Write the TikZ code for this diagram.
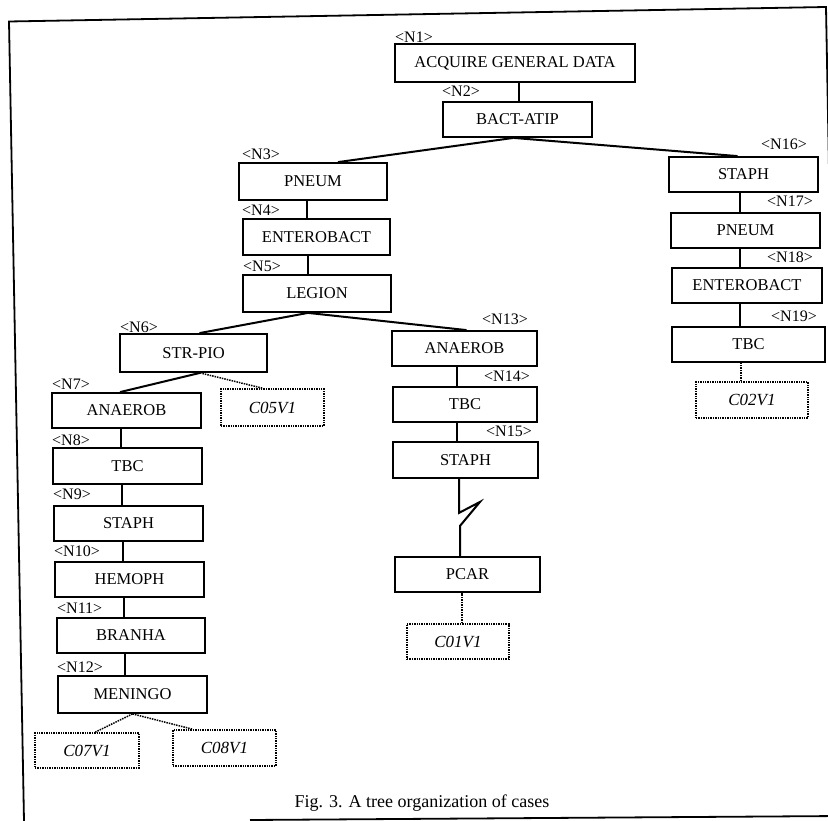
\documentclass[tikz,border=0pt]{standalone}
\usepackage{fontspec}
\setmainfont{Liberation Serif}
\begin{document}
\begin{tikzpicture}[x=1pt,y=-1pt,
  box/.style n args={2}{draw, line width=1.8pt, inner sep=0pt, minimum width=#1, minimum height=#2, font=\fontsize{16.5}{18}\selectfont},
  leaf/.style n args={2}{draw, densely dotted, line width=1.4pt, inner sep=0pt, minimum width=#1, minimum height=#2, font=\fontsize{17}{18}\selectfont\itshape},
  lab/.style={inner sep=0pt, font=\fontsize{16}{17}\selectfont},
  edge/.style={line width=2pt},
  dotedge/.style={line width=1.5pt, densely dotted},
  frame/.style={line width=1.8pt}]
\useasboundingbox (0,0) rectangle (828,821);
\begin{scope}
\clip (0,0) rectangle (828,821);
\draw[frame] (24,821) -- (9,21.5) -- (826,7) -- (841,821);
\draw[frame] (250,820) -- (841,816);
\end{scope}
% main nodes
\node[box={240pt}{38pt}] (N1) at (515,63) {ACQUIRE GENERAL DATA};
\node[box={149pt}{35pt}] (N2) at (517.5,119.5) {BACT-ATIP};
\node[box={148pt}{37pt}] (N3) at (313,181.5) {PNEUM};
\node[box={147pt}{36pt}] (N4) at (316.5,237) {ENTEROBACT};
\node[box={148pt}{37pt}] (N5) at (317,293.5) {LEGION};
\node[box={147pt}{38pt}] (N6) at (193.5,353) {STR-PIO};
\node[box={149pt}{35pt}] (N7) at (126.5,410.5) {ANAEROB};
\node[box={149pt}{36pt}] (N8) at (127.5,466) {TBC};
\node[box={149pt}{35pt}] (N9) at (128.5,523.5) {STAPH};
\node[box={149pt}{35pt}] (N10) at (129.5,579.5) {HEMOPH};
\node[box={148pt}{35pt}] (N11) at (131,635.5) {BRANHA};
\node[box={149pt}{37pt}] (N12) at (132.5,694.5) {MENINGO};
\node[box={145pt}{35pt}] (N13) at (464.5,348.5) {ANAEROB};
\node[box={144pt}{35pt}] (N14) at (465,404.5) {TBC};
\node[box={145pt}{36pt}] (N15) at (465.5,460) {STAPH};
\node[box={145pt}{35pt}] (P) at (467.5,574.5) {PCAR};
\node[box={149pt}{35pt}] (N16) at (743.5,174.5) {STAPH};
\node[box={149pt}{35pt}] (N17) at (745.5,230.5) {PNEUM};
\node[box={150pt}{35pt}] (N18) at (747,285.5) {ENTEROBACT};
\node[box={153pt}{35pt}] (N19) at (748.5,344.5) {TBC};
% leaves
\node[leaf={103pt}{37pt}] (C05) at (272.5,407.5) {C05V1};
\node[leaf={104pt}{35pt}] (C07) at (87,750.5) {C07V1};
\node[leaf={103pt}{36pt}] (C08) at (224.5,748) {C08V1};
\node[leaf={102pt}{35pt}] (C01) at (458,641.5) {C01V1};
\node[leaf={112pt}{36pt}] (C02) at (752,400) {C02V1};
% labels
\node[lab, anchor=west] (L1) at (395,37) {<N1>};
\node[lab, anchor=west] (L2) at (442,91) {<N2>};
\node[lab, anchor=west] (L3) at (242,154) {<N3>};
\node[lab, anchor=west] (L4) at (242,210) {<N4>};
\node[lab, anchor=west] (L5) at (243,266) {<N5>};
\node[lab, anchor=west] (L6) at (120,327) {<N6>};
\node[lab, anchor=west] (L7) at (52,384) {<N7>};
\node[lab, anchor=west] (L8) at (52,440) {<N8>};
\node[lab, anchor=west] (L9) at (53,494) {<N9>};
\node[lab, anchor=west] (L10) at (54,551) {<N10>};
\node[lab, anchor=west] (L11) at (57,608) {<N11>};
\node[lab, anchor=west] (L12) at (57,667) {<N12>};
\node[lab, anchor=east] (L13) at (528,319) {<N13>};
\node[lab, anchor=east] (L14) at (530,376) {<N14>};
\node[lab, anchor=east] (L15) at (532,431) {<N15>};
\node[lab, anchor=east] (L16) at (807,144) {<N16>};
\node[lab, anchor=east] (L17) at (813,201) {<N17>};
\node[lab, anchor=east] (L18) at (813,257) {<N18>};
\node[lab, anchor=east] (L19) at (817,316) {<N19>};
% caption
\node[inner sep=0pt, font=\fontsize{18}{20}\selectfont] (cap) at (422,803) {Fig. 3. A tree organization of cases};
% vertical connectors
\coordinate (v2) at ([xshift=1.5pt]N2.north);
\draw[edge] (v2) -- (v2 |- N1.south);
\coordinate (v4) at ([xshift=-9.5pt]N4.north);
\draw[edge] (v4) -- (v4 |- N3.south);
\coordinate (v5) at ([xshift=-9pt]N5.north);
\draw[edge] (v5) -- (v5 |- N4.south);
\coordinate (v8) at ([xshift=-6.5pt]N8.north);
\draw[edge] (v8) -- (v8 |- N7.south);
\coordinate (v9) at ([xshift=-6.5pt]N9.north);
\draw[edge] (v9) -- (v9 |- N8.south);
\coordinate (v10) at ([xshift=-6.5pt]N10.north);
\draw[edge] (v10) -- (v10 |- N9.south);
\coordinate (v11) at ([xshift=-7pt]N11.north);
\draw[edge] (v11) -- (v11 |- N10.south);
\coordinate (v12) at ([xshift=-7.5pt]N12.north);
\draw[edge] (v12) -- (v12 |- N11.south);
\coordinate (v14) at ([xshift=-8pt]N14.north);
\draw[edge] (v14) -- (v14 |- N13.south);
\coordinate (v15) at ([xshift=-8.5pt]N15.north);
\draw[edge] (v15) -- (v15 |- N14.south);
\coordinate (v17) at ([xshift=-6pt]N17.north);
\draw[edge] (v17) -- (v17 |- N16.south);
\coordinate (v18) at ([xshift=-7pt]N18.north);
\draw[edge] (v18) -- (v18 |- N17.south);
\coordinate (v19) at ([xshift=-8.5pt]N19.north);
\draw[edge] (v19) -- (v19 |- N18.south);
% branching connectors
\draw[edge] ([xshift=-4pt]N2.south) -- ([xshift=25pt]N3.north);
\draw[edge] ([xshift=-4pt]N2.south) -- ([xshift=-6pt]N16.north);
\draw[edge] ([xshift=-9pt]N5.south) -- ([xshift=6pt]N6.north);
\draw[edge] ([xshift=-9pt]N5.south) -- ([xshift=2pt]N13.north);
\draw[edge] ([xshift=6.5pt]N6.south) -- ([xshift=-6.5pt]N7.north);
\draw[dotedge] ([xshift=6.5pt]N6.south) -- ([xshift=-9.5pt]C05.north);
\draw[dotedge] (N12.south) -- ([xshift=8pt]C07.north);
\draw[dotedge] (N12.south) -- ([xshift=-31.5pt]C08.north);
% zigzag
\coordinate (zz) at ([xshift=-7.5pt]P.north);
\draw[edge] ([xshift=-6.5pt]N15.south) -- ++(0,34) -- ++(21,-11) -- ++(-20,24) -- (zz);
% leaf connectors
\coordinate (c01) at ([xshift=4pt]C01.north);
\draw[dotedge] (c01) -- (c01 |- P.south);
\coordinate (c02) at ([xshift=-11pt]C02.north);
\draw[dotedge] (c02) -- (c02 |- N19.south);
\end{tikzpicture}
\end{document}
